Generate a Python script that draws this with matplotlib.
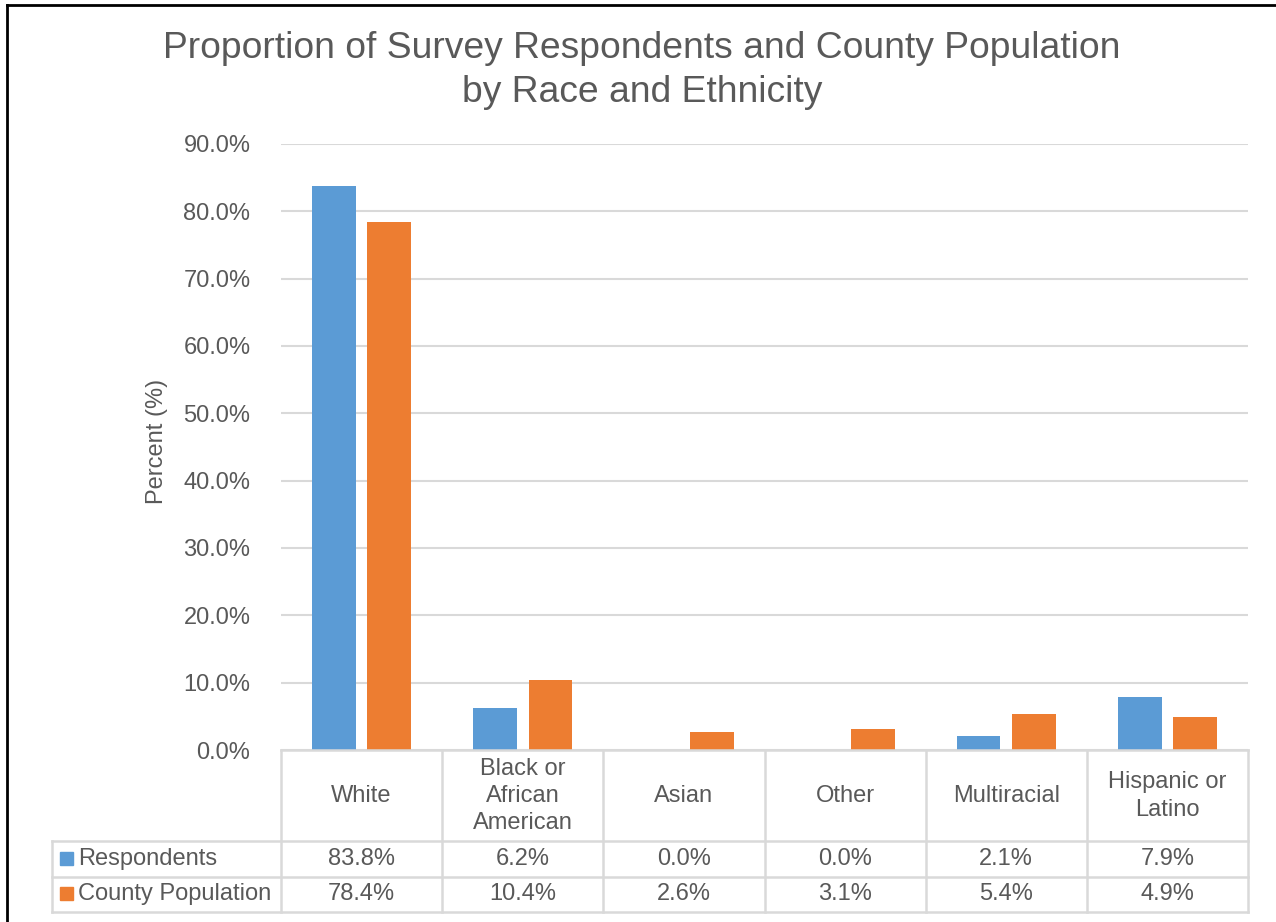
import matplotlib
matplotlib.use("Agg")
import matplotlib.pyplot as plt
from matplotlib.lines import Line2D
from matplotlib.patches import Rectangle
from matplotlib.transforms import blended_transform_factory

categories = ["White", "Black or\nAfrican\nAmerican", "Asian", "Other", "Multiracial", "Hispanic or\nLatino"]
series_names = ["Respondents", "County Population"]
respondents = [83.8, 6.2, 0.0, 0.0, 2.1, 7.9]
county = [78.4, 10.4, 2.6, 3.1, 5.4, 4.9]
yticks = [0, 10, 20, 30, 40, 50, 60, 70, 80, 90]

W, H = 1276, 922
BLUE = "#5B9BD5"
ORANGE = "#ED7D31"
TXT = "#595959"
GRID = "#D9D9D9"
FONT = "Liberation Sans"

plt.rcParams['font.family'] = [FONT, 'DejaVu Sans']

fig = plt.figure(figsize=(W / 100, H / 100), dpi=100)

def fx(px):
    return px / W

def fy(py):
    return 1 - py / H

ax_l, ax_r, ax_t, ax_b = 281, 1248, 144, 750
ax = fig.add_axes([fx(ax_l), fy(ax_b), fx(ax_r) - fx(ax_l), fy(ax_t) - fy(ax_b)])

n = len(categories)
xs = [i + 0.5 for i in range(n)]
bw = 0.272
off = 0.172
ax.bar([x - off for x in xs], respondents, width=bw, color=BLUE, zorder=3)
ax.bar([x + off for x in xs], county, width=bw, color=ORANGE, zorder=3)

ax.set_xlim(0, n)
ax.set_ylim(0, 90)
ax.set_yticks(yticks)
ax.set_yticklabels([f"{v:.1f}%" for v in yticks], fontsize=17, color=TXT)
ax.tick_params(axis='y', length=0, pad=22)
ax.set_xticks([])
ax.grid(axis='y', color=GRID, linewidth=1.5, zorder=0)
for s in ax.spines.values():
    s.set_visible(False)

fig.text(fx(157), fy(441), "Percent (%)", rotation=90, ha='center', va='center',
         fontsize=17, color=TXT)

# Title
fig.text(fx(642), fy(49), "Proportion of Survey Respondents and County Population",
         ha='center', va='center', fontsize=26.8, color=TXT)
fig.text(fx(642), fy(92), "by Race and Ethnicity",
         ha='center', va='center', fontsize=26.8, color=TXT)

# Data table
tr = blended_transform_factory(ax.transData, fig.transFigure)
row_y = [ax_b, 841, 877, 912]
lw = 1.8
fig.add_artist(Line2D([0, n], [fy(ax_b)] * 2, transform=tr, color=GRID, lw=lw))
for py in row_y[1:]:
    fig.add_artist(Line2D([fx(52), fx(ax_r)], [fy(py)] * 2, transform=fig.transFigure, color=GRID, lw=lw))
for i in range(n + 1):
    fig.add_artist(Line2D([i, i], [fy(ax_b), fy(912)], transform=tr, color=GRID, lw=lw))
fig.add_artist(Line2D([fx(52), fx(52)], [fy(841), fy(912)], transform=fig.transFigure, color=GRID, lw=lw))

for i, cat in enumerate(categories):
    fig.text(xs[i], fy(796), cat, transform=tr, ha='center', va='center',
             fontsize=17, color=TXT, linespacing=1.3)
    fig.text(xs[i], fy(859), f"{respondents[i]:.1f}%", transform=tr, ha='center', va='center',
             fontsize=17, color=TXT)
    fig.text(xs[i], fy(894), f"{county[i]:.1f}%", transform=tr, ha='center', va='center',
             fontsize=17, color=TXT)

for j, (name, col, py) in enumerate([(series_names[0], BLUE, 859), (series_names[1], ORANGE, 894)]):
    fig.add_artist(Rectangle((fx(60), fy(py + 6)), fx(13), fy(0) - fy(13),
                             transform=fig.transFigure, color=col))
    fig.text(fx(78), fy(py), name, ha='left', va='center', fontsize=17, color=TXT)

# outer frame (left and top visible)
fig.add_artist(Line2D([fx(7), fx(7)], [fy(5), 0], transform=fig.transFigure, color='black', lw=2))
fig.add_artist(Line2D([fx(7), 1], [fy(5), fy(5)], transform=fig.transFigure, color='black', lw=2))

fig.savefig("out.png", dpi=100)
